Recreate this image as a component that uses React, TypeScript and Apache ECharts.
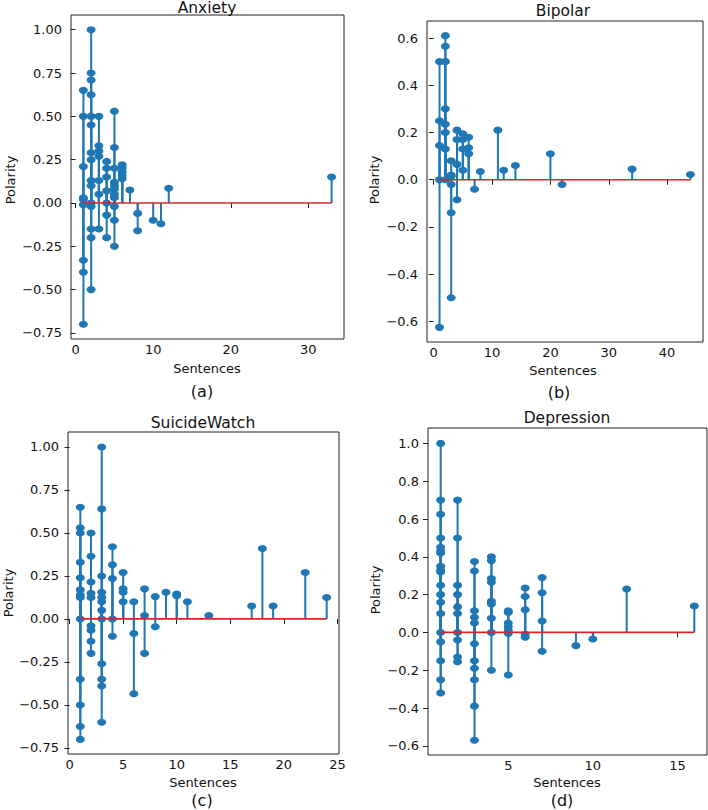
import React, { useEffect, useRef } from "react";
import * as echarts from "echarts";

// ---- Data: [sentences, polarity values at that sentence count] ----
const anxiety: [number, number[]][] = [
  [1, [0.65, 0.5, 0.21, 0.03, 0.02, -0.01, -0.33, -0.4, -0.7]],
  [2, [1.0, 0.75, 0.71, 0.625, 0.5, 0.45, 0.29, 0.25, 0.13, 0.1, 0.0, -0.02, -0.15, -0.2, -0.5]],
  [3, [0.5, 0.33, 0.3, 0.27, 0.13, 0.05, -0.15]],
  [4, [0.24, 0.2, 0.15, 0.07, 0.0, -0.07, -0.2]],
  [5, [0.53, 0.32, 0.2, 0.12, 0.1, 0.08, 0.05, 0.03, -0.02, -0.1, -0.25]],
  [6, [0.22, 0.2, 0.18, 0.16, 0.14]],
  [7, [0.075]],
  [8, [-0.06, -0.16]],
  [10, [-0.1]],
  [11, [-0.12]],
  [12, [0.085]],
  [33, [0.15]],
];

const bipolar: [number, number[]][] = [
  [1, [0.5, 0.25, 0.145, 0.0, -0.625]],
  [2, [0.61, 0.565, 0.5, 0.3, 0.235, 0.2, 0.13, 0.0]],
  [3, [0.08, 0.02, 0.015, -0.02, -0.14, -0.5]],
  [4, [0.21, 0.17, 0.065, -0.085]],
  [5, [0.195, 0.17, 0.13, 0.04]],
  [6, [0.18, 0.135, 0.11]],
  [7, [-0.04]],
  [8, [0.035]],
  [11, [0.21]],
  [12, [0.04]],
  [14, [0.06]],
  [20, [0.11]],
  [22, [-0.02]],
  [34, [0.045]],
  [44, [0.022]],
];

const suicideWatch: [number, number[]][] = [
  [1, [0.65, 0.53, 0.5, 0.33, 0.24, 0.17, 0.14, 0.125, 0.0, -0.35, -0.5, -0.625, -0.7]],
  [2, [0.5, 0.365, 0.215, 0.15, 0.125, -0.04, -0.065, -0.13, -0.2]],
  [3, [1.0, 0.64, 0.25, 0.155, 0.125, 0.1, 0.05, 0.0, -0.26, -0.35, -0.39, -0.6]],
  [4, [0.42, 0.315, 0.235, 0.0, -0.1]],
  [5, [0.27, 0.175, 0.155, 0.1]],
  [6, [0.1, -0.085, -0.435]],
  [7, [0.175, 0.02, -0.2]],
  [8, [0.13, -0.045]],
  [9, [0.155]],
  [10, [0.145, 0.135]],
  [11, [0.1]],
  [13, [0.02]],
  [17, [0.075]],
  [18, [0.41]],
  [19, [0.075]],
  [22, [0.27]],
  [24, [0.125]],
];

const depression: [number, number[]][] = [
  [1, [1.0, 0.7, 0.625, 0.5, 0.45, 0.43, 0.42, 0.35, 0.33, 0.32, 0.25, 0.2, 0.16, 0.1, 0.0, -0.05, -0.15, -0.25, -0.32]],
  [2, [0.7, 0.5, 0.25, 0.2, 0.135, 0.1, 0.0, -0.04, -0.13, -0.155]],
  [3, [0.375, 0.325, 0.115, 0.08, 0.05, -0.06, -0.15, -0.19, -0.25, -0.39, -0.57]],
  [4, [0.4, 0.38, 0.285, 0.265, 0.165, 0.15, 0.075, 0.0, -0.2]],
  [5, [0.115, 0.105, 0.05, 0.03, 0.01, -0.005, -0.225]],
  [6, [0.235, 0.19, 0.12, -0.01, -0.025]],
  [7, [0.29, 0.21, 0.06, -0.1]],
  [9, [-0.07]],
  [10, [-0.035]],
  [12, [0.23]],
  [16, [0.14]],
];

// ---- Tick labels ----
const anxietyXTicks = [0, 10, 20, 30];
const anxietyYTicks = [-0.75, -0.5, -0.25, 0, 0.25, 0.5, 0.75, 1.0];
const bipolarXTicks = [0, 10, 20, 30, 40];
const bipolarYTicks = [-0.6, -0.4, -0.2, 0, 0.2, 0.4, 0.6];
const suicideXTicks = [0, 5, 10, 15, 20, 25];
const suicideYTicks = [-0.75, -0.5, -0.25, 0, 0.25, 0.5, 0.75, 1.0];
const depressionXTicks = [5, 10, 15];
const depressionYTicks = [-0.6, -0.4, -0.2, 0, 0.2, 0.4, 0.6, 0.8, 1.0];

const titles = ["Anxiety", "Bipolar", "SuicideWatch", "Depression"];
const captions = ["(a)", "(b)", "(c)", "(d)"];
const xAxisLabel = "Sentences";
const yAxisLabel = "Polarity";

const BLUE = "#1f77b4";
const RED = "#d62728";
const FONT = "DejaVu Sans";

const panels = [
  {
    data: anxiety, xTicks: anxietyXTicks, yTicks: anxietyYTicks, dec: 2,
    grid: { left: 71, top: 15, width: 273, height: 324 },
    xr: [-0.6, 34.6], yr: [-0.785, 1.085],
    title: [207, 8], xl: [207, 368], cap: [202, 391], yl: [10, 180],
  },
  {
    data: bipolar, xTicks: bipolarXTicks, yTicks: bipolarYTicks, dec: 1,
    grid: { left: 427, top: 21, width: 276, height: 321 },
    xr: [-1.15, 46.15], yr: [-0.687, 0.672],
    title: [563, 11], xl: [563, 370], cap: [559, 392], yl: [374, 180],
  },
  {
    data: suicideWatch, xTicks: suicideXTicks, yTicks: suicideYTicks, dec: 2,
    grid: { left: 68, top: 432, width: 271, height: 322 },
    xr: [-0.15, 25.15], yr: [-0.785, 1.087],
    title: [203, 423], xl: [203, 782], cap: [202, 800], yl: [8, 593],
  },
  {
    data: depression, xTicks: depressionXTicks, yTicks: depressionYTicks, dec: 1,
    grid: { left: 428, top: 428, width: 279, height: 327 },
    xr: [0.25, 16.75], yr: [-0.6485, 1.0815],
    title: [567, 418], xl: [567, 782], cap: [562, 800], yl: [375, 590],
  },
];

function fmt(v: number, dec: number) {
  const s = Math.abs(v) < 1e-9 ? (0).toFixed(dec) : v.toFixed(dec);
  return s.replace("-", "\u2212");
}

export default function App() {
  const ref = useRef<HTMLDivElement>(null);
  useEffect(() => {
    if (!ref.current) return;
    const chart = echarts.init(ref.current, undefined, { renderer: "svg" });
    const grids: any[] = [];
    const xAxes: any[] = [];
    const yAxes: any[] = [];
    const series: any[] = [];
    const graphics: any[] = [];

    panels.forEach((p, i) => {
      grids.push({ ...p.grid, show: true, borderColor: "#222", borderWidth: 1, backgroundColor: "transparent" });
      xAxes.push({
        type: "value", gridIndex: i, min: p.xr[0], max: p.xr[1],
        axisLine: { show: false },
        splitLine: { show: false },
        axisTick: { show: true, length: 5, customValues: p.xTicks, lineStyle: { color: "#222", width: 1 } },
        axisLabel: {
          customValues: p.xTicks, margin: 4, color: "#111", fontFamily: FONT, fontSize: 13,
          formatter: (v: number) => String(v),
        },
      });
      yAxes.push({
        type: "value", gridIndex: i, min: p.yr[0], max: p.yr[1],
        axisLine: { show: false },
        splitLine: { show: false },
        axisTick: { show: true, length: 5, customValues: p.yTicks, lineStyle: { color: "#222", width: 1 } },
        axisLabel: {
          customValues: p.yTicks, margin: 9, color: "#111", fontFamily: FONT, fontSize: 13,
          formatter: (v: number) => fmt(v, p.dec),
        },
      });
      const pts = p.data.flatMap(([x, ys]) => ys.map((y) => [x, y]));
      const xs = p.data.map((d) => d[0]);
      const xmin = Math.min(...xs), xmax = Math.max(...xs);
      series.push({
        type: "custom", xAxisIndex: i, yAxisIndex: i, z: 2,
        data: pts, encode: { x: 0, y: 1 },
        renderItem: (_params: any, api: any) => {
          const x = api.value(0), y = api.value(1);
          const a = api.coord([x, 0]);
          const b = api.coord([x, y]);
          return {
            type: "line",
            shape: { x1: a[0], y1: a[1], x2: b[0], y2: b[1] },
            style: { stroke: BLUE, lineWidth: 2 },
          };
        },
      });
      series.push({
        type: "scatter", xAxisIndex: i, yAxisIndex: i, z: 3,
        data: pts, symbol: "circle", symbolSize: [9, 7],
        itemStyle: { color: BLUE, opacity: 1 },
      });
      series.push({
        type: "line", xAxisIndex: i, yAxisIndex: i, z: 4,
        data: [[xmin, 0], [xmax, 0]], symbol: "none",
        lineStyle: { color: RED, width: 1.7 },
      });
      graphics.push(
        { type: "text", x: p.title[0], y: p.title[1], style: { text: titles[i], font: `15.5px "${FONT}"`, fill: "#111", textAlign: "center", textVerticalAlign: "middle" } },
        { type: "text", x: p.xl[0], y: p.xl[1], style: { text: xAxisLabel, font: `13px "${FONT}"`, fill: "#111", textAlign: "center", textVerticalAlign: "middle" } },
        { type: "text", x: p.cap[0], y: p.cap[1], style: { text: captions[i], font: `16px "${FONT}"`, fill: "#111", textAlign: "center", textVerticalAlign: "middle" } },
        { type: "text", x: p.yl[0], y: p.yl[1], rotation: Math.PI / 2, style: { text: yAxisLabel, font: `13px "${FONT}"`, fill: "#111", textAlign: "center", textVerticalAlign: "middle" } },
      );
    });

    chart.setOption({
      animation: false,
      backgroundColor: "#ffffff",
      grid: grids,
      xAxis: xAxes,
      yAxis: yAxes,
      series,
      graphic: graphics,
    });
    return () => chart.dispose();
  }, []);
  return (
    <div
      ref={ref}
      style={{ position: "absolute", left: 0, top: 0, width: 708, height: 810 }}
    />
  );
}
